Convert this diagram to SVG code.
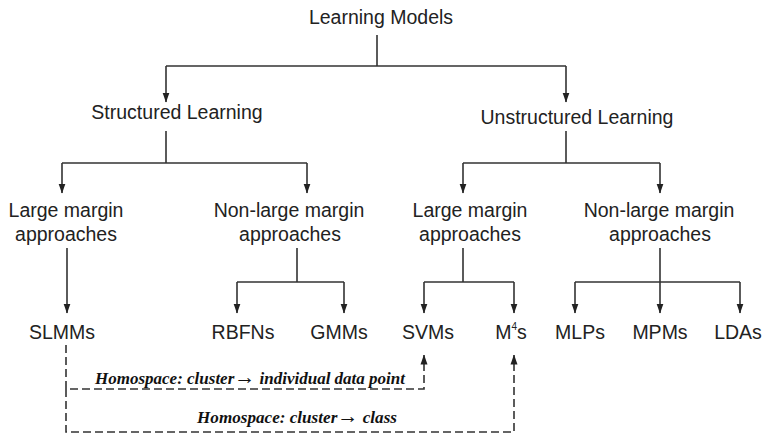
<svg xmlns="http://www.w3.org/2000/svg" width="764" height="435" viewBox="0 0 764 435">
<style>
.t{font-family:"Liberation Sans",Arial,sans-serif;font-size:19.5px;fill:#222;text-anchor:middle}
.i{font-family:"Liberation Serif","Times New Roman",serif;font-size:17px;font-style:italic;font-weight:bold;fill:#111}
.ar{font-size:21px;font-style:normal}
.c{fill:none;stroke:#333;stroke-width:1.6}
.a{marker-end:url(#ah)}
.d{fill:none;stroke:#333;stroke-width:1.6;stroke-dasharray:8 4;marker-end:url(#ah)}
</style>
<defs>
<marker id="ah" markerUnits="userSpaceOnUse" markerWidth="10" markerHeight="8" refX="9.5" refY="4" orient="auto" viewBox="0 0 10 8">
<path d="M0,0.5 L10,4 L0,7.5 Z" fill="#222"/>
</marker>
</defs>
<g id="connectors">
<path class="c" d="M377,35 V66 M166,66 H566"/>
<path class="c a" d="M166,66 V102"/>
<path class="c a" d="M566,66 V102"/>
<path class="c" d="M166,131 V163 M62,163 H307"/>
<path class="c a" d="M62,163 V193"/>
<path class="c a" d="M307,163 V193"/>
<path class="c" d="M566,131 V163 M463,163 H660"/>
<path class="c a" d="M463,163 V193"/>
<path class="c a" d="M660,163 V193"/>
<path class="c a" d="M67,248 V313"/>
<path class="c" d="M297,248 V282 M237,282 H344"/>
<path class="c a" d="M237,282 V313"/>
<path class="c a" d="M344,282 V313"/>
<path class="c" d="M463,248 V282 M424,282 H514"/>
<path class="c a" d="M424,282 V313"/>
<path class="c a" d="M514,282 V313"/>
<path class="c" d="M575,282 H740"/>
<path class="c a" d="M660,248 V313"/>
<path class="c a" d="M575,282 V313"/>
<path class="c a" d="M740,282 V313"/>
<path class="d" d="M66,345 V389 H424 V355"/>
<path class="d" d="M66,389 V432 H514 V355"/>
</g>
<g id="n-learning-models"><text class="t" x="381" y="24">Learning Models</text></g>
<g id="n-structured"><text class="t" x="177" y="119">Structured Learning</text></g>
<g id="n-unstructured"><text class="t" x="577" y="124">Unstructured Learning</text></g>
<g id="n-s-large"><text class="t" x="66" y="217">Large margin</text><text class="t" x="66" y="241">approaches</text></g>
<g id="n-s-nonlarge"><text class="t" x="289" y="217">Non-large margin</text><text class="t" x="290" y="241">approaches</text></g>
<g id="n-u-large"><text class="t" x="470" y="217">Large margin</text><text class="t" x="470" y="241">approaches</text></g>
<g id="n-u-nonlarge"><text class="t" x="659" y="217">Non-large margin</text><text class="t" x="660" y="241">approaches</text></g>
<g id="n-slmms"><text class="t" x="62" y="339">SLMMs</text></g>
<g id="n-rbfns"><text class="t" x="243" y="339">RBFNs</text></g>
<g id="n-gmms"><text class="t" x="339" y="339">GMMs</text></g>
<g id="n-svms"><text class="t" x="428" y="339">SVMs</text></g>
<g id="n-m4s"><text class="t" x="511" y="339">M<tspan font-size="10" dy="-9">4</tspan><tspan dy="9">s</tspan></text></g>
<g id="n-mlps"><text class="t" x="580" y="339">MLPs</text></g>
<g id="n-mpms"><text class="t" x="660" y="339">MPMs</text></g>
<g id="n-ldas"><text class="t" x="738" y="339">LDAs</text></g>
<g id="labels">
<text class="i" x="95" y="384" textLength="310" lengthAdjust="spacingAndGlyphs">Homospace: cluster<tspan class="ar">→</tspan> individual data point</text>
<text class="i" x="197" y="423" textLength="200" lengthAdjust="spacingAndGlyphs">Homospace: cluster<tspan class="ar">→</tspan> class</text>
</g>
</svg>
